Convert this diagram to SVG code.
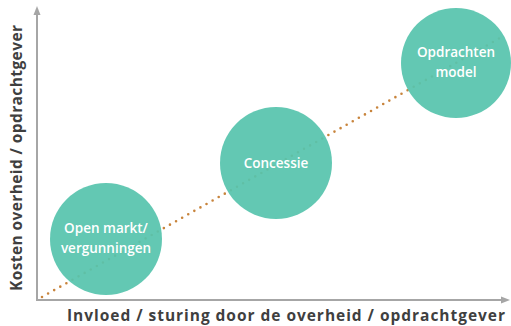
<svg xmlns="http://www.w3.org/2000/svg" width="511" height="326" viewBox="0 0 511 326">
<defs>
<style>
.axis{stroke:#A6A6A6;stroke-width:2;fill:none}
.ah{fill:#A6A6A6}
.lbl{font-family:"Open Sans","Liberation Sans",sans-serif;font-weight:bold;font-size:15.5px;fill:#3F3F3F}
.node circle{fill:#57C4AD;fill-opacity:0.93}
.node text{font-family:"Open Sans","Liberation Sans",sans-serif;font-weight:600;font-size:13.5px;fill:#FFFFFF;text-anchor:middle}
.trend{stroke:#C8843C;stroke-width:2.6;stroke-dasharray:0 7;stroke-linecap:round;fill:none}
</style>
</defs>
<g id="connectors">
<line class="trend" x1="42" y1="297" x2="500" y2="38"/>
<line class="axis" x1="37" y1="301" x2="37" y2="12"/>
<path class="ah" d="M37 6 L40.5 15 L33.5 15 Z"/>
<line class="axis" x1="36" y1="300" x2="504" y2="300"/>
<path class="ah" d="M510 300 L501 296.5 L501 303.5 Z"/>
</g>
<g id="axis-x-label"><text class="lbl" x="67" y="320.5" textLength="438">Invloed / sturing door de overheid / opdrachtgever</text></g>
<g id="axis-y-label"><text class="lbl" transform="translate(22 291) rotate(-90)" x="0" y="0" textLength="266">Kosten overheid / opdrachtgever</text></g>
<g id="node-open" class="node">
<circle cx="106" cy="239" r="56"/>
<text x="106" y="233">Open markt/</text>
<text x="106" y="253">vergunningen</text>
</g>
<g id="node-concessie" class="node">
<circle cx="276" cy="163" r="56"/>
<text x="276" y="168">Concessie</text>
</g>
<g id="node-opdrachten" class="node">
<circle cx="456" cy="63" r="55"/>
<text x="456" y="57">Opdrachten</text>
<text x="456" y="77">model</text>
</g>
</svg>
